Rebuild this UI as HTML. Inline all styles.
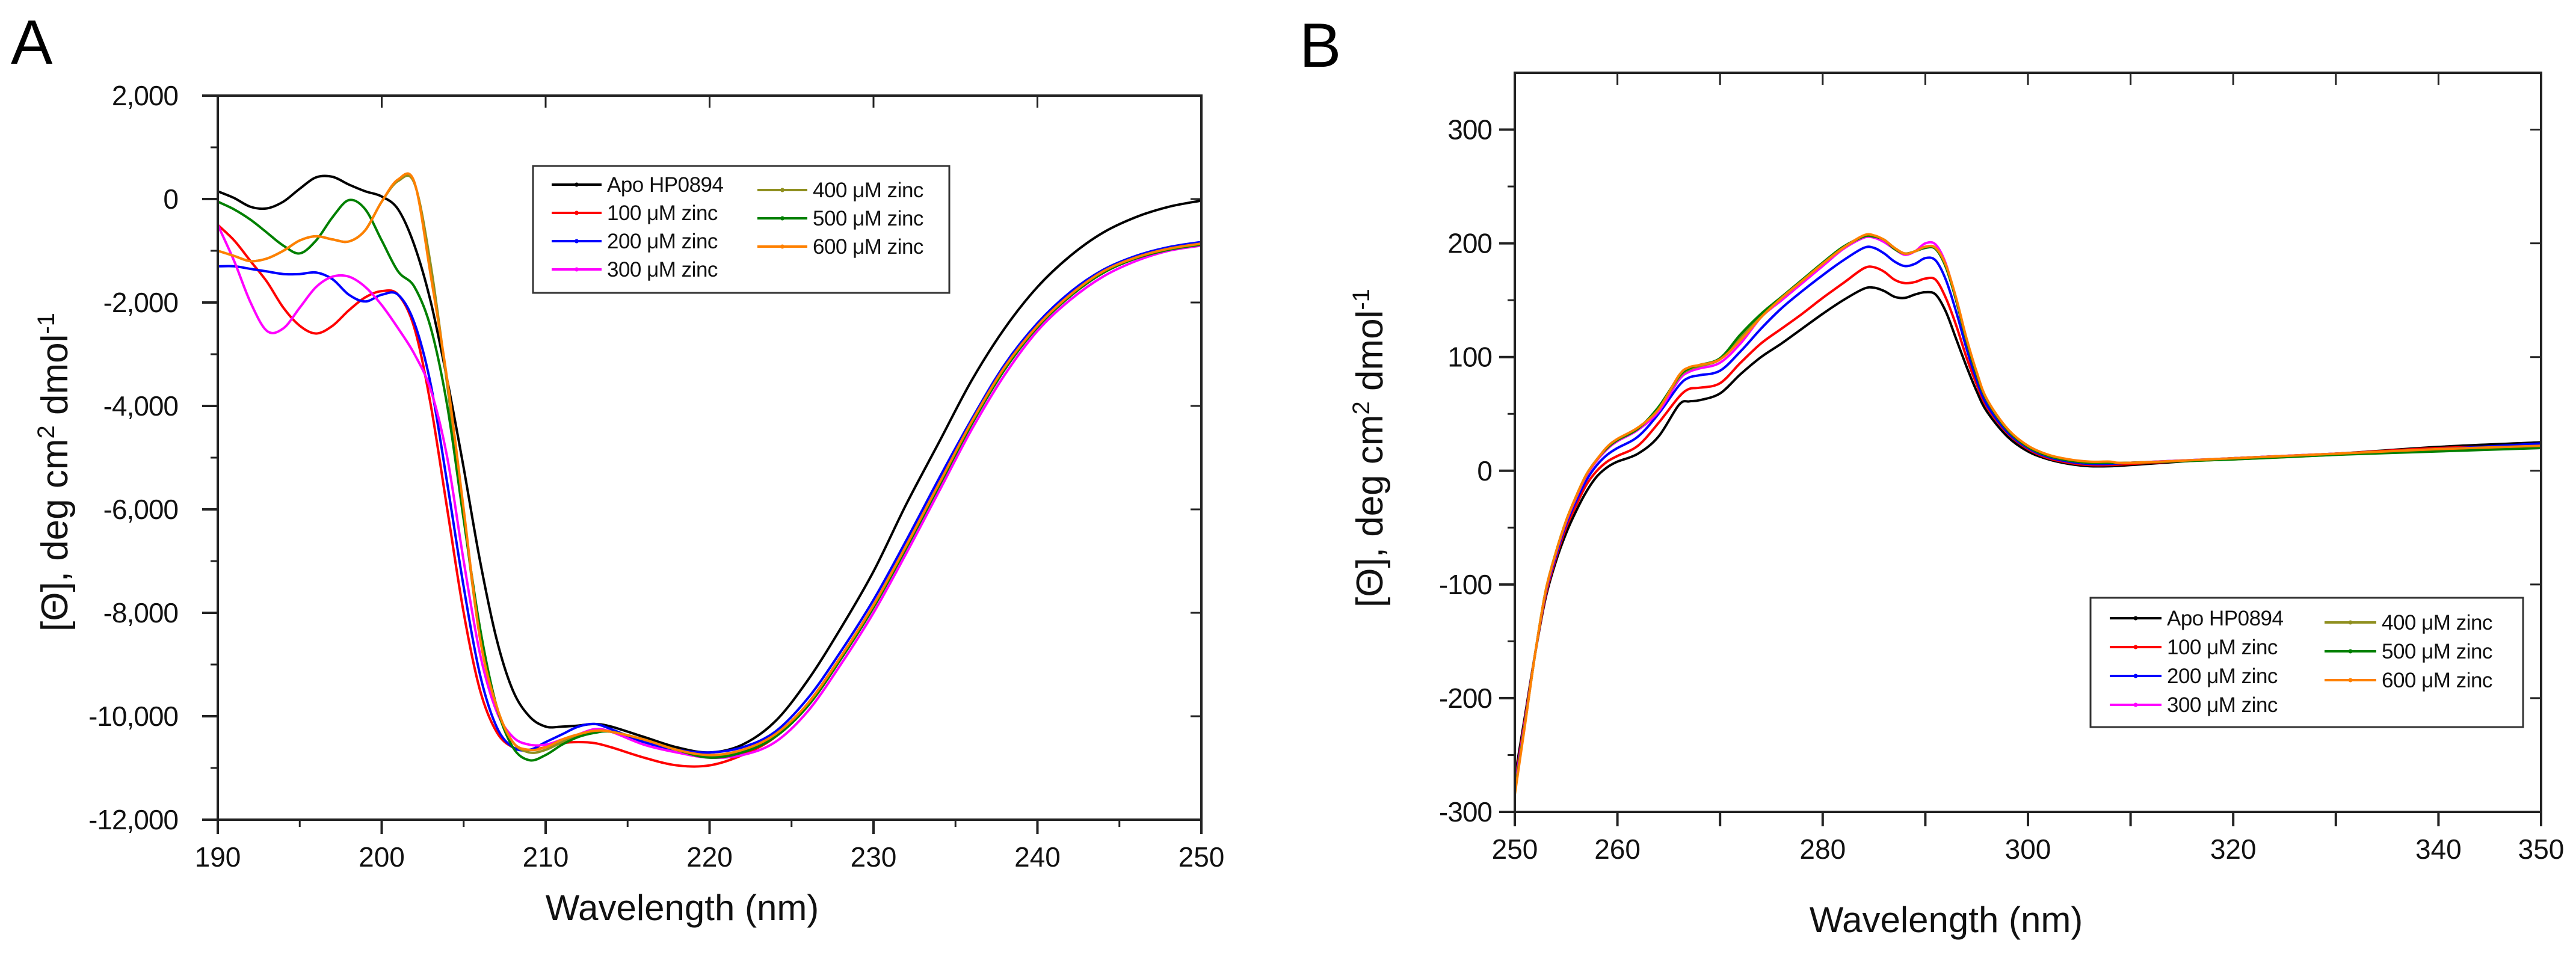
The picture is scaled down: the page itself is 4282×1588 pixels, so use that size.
<!DOCTYPE html>
<html><head><meta charset="utf-8"><style>
html,body{margin:0;padding:0;background:#fff;}
svg{display:block;font-family:"Liberation Sans",Arial,sans-serif;}
</style></head><body>
<svg id="fig" width="4282" height="1588" viewBox="0 0 4282 1588" xmlns="http://www.w3.org/2000/svg">
<text x="18" y="106" font-size="104" fill="#000">A</text>
<text x="2160" y="111" font-size="104" fill="#000">B</text>
<g id="pa"></g>
<g id="pb"></g>
</svg>
<script>
const seriesNames = ["Apo HP0894","100 \u03bcM zinc","200 \u03bcM zinc","300 \u03bcM zinc","400 \u03bcM zinc","500 \u03bcM zinc","600 \u03bcM zinc"];
const seriesColors = ["#000000","#ff0000","#0000ff","#ff00ff","#8f8f1f","#008000","#ff8000"];

const wlA = [190,191,192,193,194,195,196,197,198,199,200,201,202,203,204,205,206,207,208,209,210,211,212,213,214,216,218,220,222,224,226,228,230,232,234,236,238,240,242,244,246,248,250];
const apoA = [150,20,-150,-180,-50,200,420,430,280,150,50,-200,-900,-2000,-3500,-5200,-7000,-8500,-9500,-10000,-10200,-10200,-10180,-10150,-10200,-10400,-10600,-10700,-10550,-10100,-9300,-8300,-7200,-5900,-4700,-3500,-2500,-1700,-1100,-650,-350,-150,-30];
const zn100A = [-500,-800,-1200,-1600,-2100,-2450,-2600,-2450,-2150,-1900,-1780,-1850,-2500,-4000,-6000,-8000,-9500,-10300,-10600,-10650,-10600,-10520,-10500,-10520,-10600,-10800,-10950,-10950,-10750,-10400,-9750,-8850,-7850,-6700,-5500,-4300,-3250,-2450,-1850,-1400,-1130,-960,-850];
const zn200A = [-1300,-1300,-1350,-1400,-1450,-1450,-1420,-1550,-1850,-1980,-1850,-1850,-2400,-3600,-5500,-7500,-9200,-10200,-10600,-10650,-10500,-10350,-10200,-10150,-10250,-10500,-10650,-10700,-10600,-10300,-9650,-8750,-7750,-6600,-5400,-4250,-3200,-2400,-1800,-1370,-1100,-930,-830];
const zn300A = [-500,-1200,-2000,-2550,-2500,-2100,-1700,-1500,-1500,-1700,-2050,-2500,-3000,-3700,-5000,-7000,-8800,-9900,-10400,-10550,-10550,-10450,-10350,-10250,-10300,-10550,-10700,-10800,-10750,-10500,-9900,-9000,-8000,-6850,-5650,-4450,-3400,-2550,-1950,-1500,-1200,-1000,-900];
const zn400A = [-1000,-1100,-1200,-1150,-1000,-800,-720,-780,-820,-600,-50,350,300,-1300,-3600,-6100,-8500,-9800,-10500,-10700,-10650,-10500,-10380,-10300,-10300,-10450,-10650,-10770,-10670,-10370,-9770,-8870,-7870,-6720,-5520,-4320,-3270,-2460,-1860,-1410,-1140,-970,-870];
const zn500A = [-50,-200,-400,-650,-900,-1050,-800,-350,-20,-200,-800,-1400,-1700,-2500,-4000,-6200,-8300,-9800,-10600,-10850,-10750,-10550,-10400,-10320,-10300,-10450,-10650,-10800,-10700,-10400,-9800,-8900,-7900,-6750,-5550,-4350,-3300,-2480,-1880,-1430,-1150,-980,-880];
const zn600A = [-1000,-1100,-1200,-1150,-1000,-800,-720,-780,-820,-600,-50,380,320,-1500,-3500,-6000,-8500,-9800,-10500,-10650,-10600,-10450,-10350,-10280,-10300,-10450,-10650,-10750,-10650,-10350,-9750,-8850,-7850,-6700,-5500,-4300,-3250,-2450,-1850,-1400,-1130,-960,-860];
const xTicksA = [190,200,210,220,230,240,250];
const yTicksA = [2000,0,-2000,-4000,-6000,-8000,-10000,-12000];
const yTickLabelsA = ["2,000","0","-2,000","-4,000","-6,000","-8,000","-10,000","-12,000"];

const wlB = [250,251,252,253,254,255,256,257,258,259,260,262,264,266,267,268,270,272,274,276,278,280,282,284,285,286,287,288,289,290,291,292,293,294,295,296,298,300,302,304,306,308,310,320,330,340,350];
const apoB = [-270,-215,-160,-112,-80,-55,-35,-18,-5,3,8,15,30,58,61,62,68,85,100,112,125,138,150,160,161,158,153,152,155,157,155,140,116,92,70,52,30,17,10,6,4,4,5,11,15,21,25];
const zn100B = [-275,-218,-160,-110,-77,-50,-30,-12,0,8,13,22,42,65,72,73,77,95,112,125,138,152,165,178,179,175,168,165,166,169,168,152,128,100,76,56,33,19,11,7,5,5,6,11,15,20,22];
const zn200B = [-278,-220,-160,-108,-75,-47,-26,-8,5,14,20,30,50,75,82,84,88,105,125,143,158,172,185,196,196,191,184,180,182,187,185,168,140,108,80,58,34,20,12,8,6,6,7,11,15,19,24];
const zn300B = [-280,-220,-160,-107,-73,-45,-23,-4,9,19,26,36,52,80,87,90,95,112,135,150,165,180,195,205,205,201,195,190,193,200,199,182,150,115,85,62,36,21,13,9,7,7,7,11,15,18,20];
const zn400B = [-282,-222,-160,-106,-72,-44,-22,-3,10,20,27,37,55,82,89,92,98,118,137,152,167,182,196,206,206,203,196,191,193,197,196,180,150,115,85,62,36,21,13,9,7,7,7,10,14,18,21];
const zn500B = [-283,-222,-160,-106,-72,-44,-22,-3,10,20,27,37,56,83,90,93,99,120,138,153,168,183,197,206,206,203,195,191,193,196,195,179,150,115,85,62,36,21,13,9,7,7,7,10,14,17,20];
const zn600B = [-285,-223,-160,-106,-72,-44,-22,-3,10,21,28,38,54,84,91,93,98,115,135,152,167,182,196,207,207,203,196,191,193,197,196,181,152,117,87,63,37,22,14,10,8,8,7,11,15,19,22];
const xTicksB = [250,260,270,280,290,300,310,320,330,340,350];
const xTickLabelsB = ["250","260","","280","","300","","320","","340","350"];
const yTicksB = [300,200,100,0,-100,-200,-300];

const NS = "http://www.w3.org/2000/svg";
function mk(parent, tag, attrs, text){
  const e = document.createElementNS(NS, tag);
  for (const k in attrs) e.setAttribute(k, attrs[k]);
  if (text !== undefined) e.textContent = text;
  parent.appendChild(e);
  return e;
}
function smoothPath(pts){
  let d = "M" + pts[0][0].toFixed(1) + "," + pts[0][1].toFixed(1);
  for (let i = 0; i < pts.length - 1; i++){
    const p0 = pts[Math.max(0,i-1)], p1 = pts[i], p2 = pts[i+1], p3 = pts[Math.min(pts.length-1,i+2)];
    const c1x = p1[0] + (p2[0]-p0[0])/6, c1y = p1[1] + (p2[1]-p0[1])/6;
    const c2x = p2[0] - (p3[0]-p1[0])/6, c2y = p2[1] - (p3[1]-p1[1])/6;
    d += " C" + c1x.toFixed(1)+","+c1y.toFixed(1)+" "+c2x.toFixed(1)+","+c2y.toFixed(1)+" "+p2[0].toFixed(1)+","+p2[1].toFixed(1);
  }
  return d;
}

function drawPanel(g, cfg){
  const sx = v => cfg.x0 + (v - cfg.xmin) / (cfg.xmax - cfg.xmin) * (cfg.x1 - cfg.x0);
  const sy = v => cfg.y1 - (v - cfg.ymin) / (cfg.ymax - cfg.ymin) * (cfg.y1 - cfg.y0);
  // series
  for (let s = 0; s < cfg.series.length; s++){
    const pts = cfg.xs.map((x, i) => [sx(x), sy(cfg.series[s][i])]);
    const p = mk(g, "path", {d: smoothPath(pts), fill: "none", stroke: seriesColors[s], "stroke-width": 4, "stroke-linejoin": "round"});
    
    
  }
  // frame
  const fr = mk(g, "rect", {x: cfg.x0, y: cfg.y0, width: cfg.x1 - cfg.x0, height: cfg.y1 - cfg.y0, fill: "none", stroke: "#222", "stroke-width": 4});
  
  
  // x ticks
  for (let i = 0; i < cfg.xTicks.length; i++){
    const v = cfg.xTicks[i], x = sx(v);
    const t = mk(g, "line", {x1: x, y1: cfg.y1, x2: x, y2: cfg.y1 + 24, stroke: "#222", "stroke-width": 4});
    
    
    mk(g, "line", {x1: x, y1: cfg.y0, x2: x, y2: cfg.y0 + 20, stroke: "#222", "stroke-width": 3});
    const lab = cfg.xLabels ? cfg.xLabels[i] : String(v);
    if (lab){
      const tx = mk(g, "text", {x: x, y: cfg.y1 + 78, "font-size": 46, "text-anchor": "middle", fill: "#111"}, lab);
      
      
    }
  }
  for (let v = cfg.xmin + cfg.xMinor; v < cfg.xmax; v += cfg.xMinor){
    const x = sx(v);
    mk(g, "line", {x1: x, y1: cfg.y1, x2: x, y2: cfg.y1 + 12, stroke: "#222", "stroke-width": 3});
  }
  // y ticks
  for (let i = 0; i < cfg.yTicks.length; i++){
    const v = cfg.yTicks[i], y = sy(v);
    const t = mk(g, "line", {x1: cfg.x0 - 26, y1: y, x2: cfg.x0, y2: y, stroke: "#222", "stroke-width": 4});
    
    
    mk(g, "line", {x1: cfg.x1 - 18, y1: y, x2: cfg.x1, y2: y, stroke: "#222", "stroke-width": 3});
    const lab = cfg.yLabels ? cfg.yLabels[i] : String(v);
    const tx = mk(g, "text", {x: cfg.x0 - cfg.labGap, y: y + 16, "font-size": 46, "text-anchor": "end", fill: "#111", "letter-spacing": "-1"}, lab);
    
    
  }
  for (let v = cfg.ymin + cfg.yMinor; v < cfg.ymax; v += cfg.yMinor){
    const y = sy(v);
    mk(g, "line", {x1: cfg.x0 - 12, y1: y, x2: cfg.x0, y2: y, stroke: "#222", "stroke-width": 3});
  }
  // titles
  const xt = mk(g, "text", {x: cfg.xtX, y: cfg.xtY, "font-size": 60, "text-anchor": "middle", fill: "#111"}, "Wavelength (nm)");
  
  
  const yt = mk(g, "text", {x: 0, y: 0, "font-size": 62, "text-anchor": "middle", fill: "#111", transform: "translate(" + cfg.ytX + "," + cfg.ytY + ") rotate(-90)"});
  
  
  mk(yt, "tspan", {}, "[\u0398], deg cm");
  mk(yt, "tspan", {"font-size": 40, dy: -22}, "2");
  mk(yt, "tspan", {dy: 22}, " dmol");
  mk(yt, "tspan", {"font-size": 40, dy: -22}, "-1");
  // legend
  const L = cfg.legend;
  const lg = mk(g, "g", {});
  
  
  mk(lg, "rect", {x: L.x, y: L.y, width: L.w, height: L.h, fill: "#fff", stroke: "#333", "stroke-width": 3});
  for (let s = 0; s < 7; s++){
    const col = s < 4 ? 0 : 1, row = s < 4 ? s : s - 4;
    const lx = col ? L.c2 : L.c1;
    const ly = (col ? L.r2 : L.r1) + row * L.dr;
    const e = mk(lg, "g", {});
    
    
    mk(e, "line", {x1: lx, y1: ly, x2: lx + L.len, y2: ly, stroke: seriesColors[s], "stroke-width": 4});
    mk(e, "circle", {cx: lx + L.len / 2, cy: ly, r: 3.5, fill: seriesColors[s]});
    mk(e, "text", {x: lx + L.len + 9, y: ly + 12, "font-size": 35, fill: "#111", "letter-spacing": "-0.5"}, seriesNames[s]);
  }
}

drawPanel(document.getElementById("pa"), {
  x0: 362, x1: 1997, y0: 159, y1: 1363, xmin: 190, xmax: 250, ymin: -12000, ymax: 2000,
  xs: wlA, series: [apoA, zn100A, zn200A, zn300A, zn400A, zn500A, zn600A],
  xTicks: xTicksA, xMinor: 5, yTicks: yTicksA, yLabels: yTickLabelsA, yMinor: 1000, labGap: 66,
  xtX: 1134, xtY: 1530, ytX: 112, ytY: 785,
  legend: {x: 886, y: 276, w: 692, h: 211, c1: 917, c2: 1259, r1: 307, r2: 316, dr: 47, len: 83}
});
drawPanel(document.getElementById("pb"), {
  x0: 2518, x1: 4224, y0: 121, y1: 1350, xmin: 250, xmax: 350, ymin: -300, ymax: 350,
  xs: wlB, series: [apoB, zn100B, zn200B, zn300B, zn400B, zn500B, zn600B],
  xTicks: xTicksB, xLabels: xTickLabelsB, xMinor: 10, yTicks: yTicksB, yMinor: 50, labGap: 38,
  xtX: 3235, xtY: 1550, ytX: 2298, ytY: 745,
  legend: {x: 3475, y: 994, w: 719, h: 215, c1: 3507, c2: 3864, r1: 1028, r2: 1035, dr: 48, len: 86}
});
</script>
</body></html>
